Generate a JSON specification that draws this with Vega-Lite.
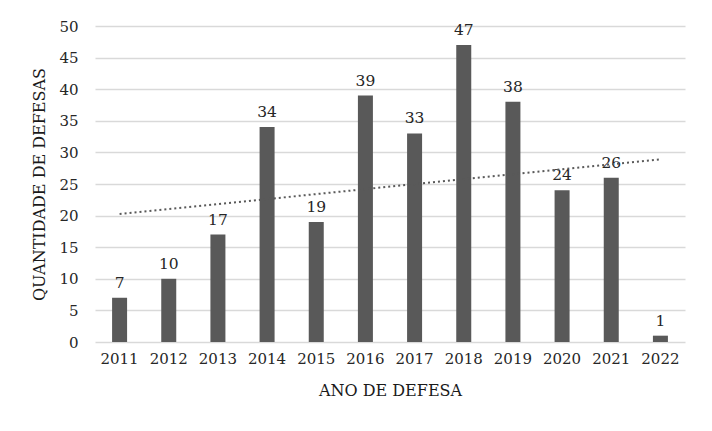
{
  "$schema": "https://vega.github.io/schema/vega-lite/v6.json",
  "autosize": "none",
  "width": 590,
  "height": 316,
  "padding": {"left": 95, "top": 26, "right": 27, "bottom": 89},
  "background": "white",
  "data": {
    "values": [
      {"ano": 2011, "defesas": 7},
      {"ano": 2012, "defesas": 10},
      {"ano": 2013, "defesas": 17},
      {"ano": 2014, "defesas": 34},
      {"ano": 2015, "defesas": 19},
      {"ano": 2016, "defesas": 39},
      {"ano": 2017, "defesas": 33},
      {"ano": 2018, "defesas": 47},
      {"ano": 2019, "defesas": 38},
      {"ano": 2020, "defesas": 24},
      {"ano": 2021, "defesas": 26},
      {"ano": 2022, "defesas": 1}
    ]
  },
  "encoding": {
    "x": {
      "field": "ano",
      "type": "ordinal",
      "title": "ANO DE DEFESA",
      "scale": {"paddingInner": 0, "paddingOuter": 0},
      "axis": {"labelAngle": 0, "labelPadding": 9, "titlePadding": 16, "ticks": false, "domain": false}
    },
    "y": {
      "field": "defesas",
      "type": "quantitative",
      "title": "QUANTIDADE DE DEFESAS",
      "scale": {"domain": [0, 50], "nice": false},
      "axis": {"values": [0, 5, 10, 15, 20, 25, 30, 35, 40, 45, 50], "labelPadding": 17, "titlePadding": 11, "ticks": false, "domain": false}
    }
  },
  "layer": [
    {"mark": {"type": "bar", "width": 15, "color": "#595959"}},
    {
      "mark": {"type": "text", "baseline": "bottom", "dy": -7, "fontSize": 15.5, "font": "DejaVu Serif", "color": "#262626"},
      "encoding": {"text": {"field": "defesas", "type": "quantitative"}}
    },
    {
      "transform": [{"regression": "defesas", "on": "ano"}],
      "mark": {"type": "line", "color": "#595959", "strokeWidth": 2, "strokeDash": [2, 3]},
      "encoding": {}
    }
  ],
  "config": {
    "view": {"stroke": null},
    "font": "DejaVu Serif",
    "axis": {
      "labelFont": "DejaVu Serif",
      "labelFontSize": 15,
      "labelColor": "#262626",
      "titleFont": "DejaVu Serif",
      "titleFontSize": 16,
      "titleFontWeight": "normal",
      "titleColor": "#1a1a1a",
      "gridColor": "#d9d9d9",
      "gridWidth": 1.5
    },
    "axisX": {"grid": false}
  }
}
